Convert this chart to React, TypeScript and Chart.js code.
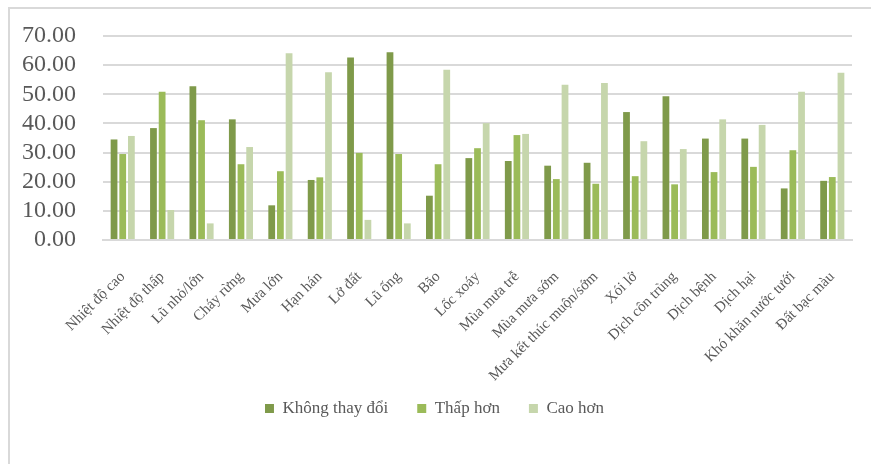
import React, { useEffect, useRef } from "react";
import { Chart, registerables } from "chart.js";

Chart.register(...registerables);

const categories = [
  "Nhiệt độ cao",
  "Nhiệt độ thấp",
  "Lũ nhỏ/lớn",
  "Cháy rừng",
  "Mưa lớn",
  "Hạn hán",
  "Lở đất",
  "Lũ ống",
  "Bão",
  "Lốc xoáy",
  "Mùa mưa trễ",
  "Mùa mưa sớm",
  "Mưa kết thúc muộn/sớm",
  "Xói lở",
  "Dịch côn trùng",
  "Dịch bệnh",
  "Dịch hại",
  "Khó khăn nước tưới",
  "Đất bạc màu",
];

const khongThayDoi = [34.5, 38.4, 52.8, 41.4, 11.9, 20.6, 62.6, 64.4, 15.2, 28.1, 27.1, 25.5, 26.5, 43.9, 49.3, 34.8, 34.8, 17.7, 20.3];
const thapHon = [29.5, 50.9, 41.1, 26.0, 23.6, 21.5, 29.9, 29.5, 26.0, 31.5, 36.0, 20.9, 19.3, 21.9, 19.1, 23.3, 25.1, 30.8, 21.6];
const caoHon = [35.7, 10.3, 5.7, 31.9, 64.1, 57.6, 6.9, 5.7, 58.4, 40.1, 36.4, 53.3, 53.9, 33.9, 31.2, 41.4, 39.5, 50.9, 57.4];

const seriesNames = ["Không thay đổi", "Thấp hơn", "Cao hơn"];
const yMin = 0;
const yMax = 70;
const yStep = 10;

const FONT = "'Liberation Serif', 'Times New Roman', serif";
const TEXT = "#595959";
const GRID = "#d9d9d9";

export default function App() {
  const ref = useRef<HTMLCanvasElement | null>(null);

  useEffect(() => {
    if (!ref.current) return;
    const chart = new Chart(ref.current, {
      type: "bar",
      data: {
        labels: categories,
        datasets: [
          { label: seriesNames[0], data: khongThayDoi, backgroundColor: "#7f9a4a" },
          { label: seriesNames[1], data: thapHon, backgroundColor: "#9bbb59" },
          { label: seriesNames[2], data: caoHon, backgroundColor: "#c6d6ac" },
        ],
      },
      options: {
        animation: false,
        responsive: false,
        maintainAspectRatio: false,
        devicePixelRatio: 1,
        datasets: {
          bar: { barPercentage: 0.78, categoryPercentage: 0.66 },
        },
        layout: { padding: { left: 17, right: 38, top: 36, bottom: 37 } },
        plugins: {
          tooltip: { enabled: false },
          legend: {
            position: "bottom",
            labels: {
              boxWidth: 9,
              boxHeight: 9,
              padding: 29,
              color: TEXT,
              font: { family: FONT, size: 17 },
            },
          },
        },
        scales: {
          x: {
            grid: { display: false, drawTicks: false },
            border: { display: true, color: GRID, width: 2 },
            ticks: {
              autoSkip: false,
              minRotation: 45,
              maxRotation: 45,
              padding: 28,
              color: TEXT,
              font: { family: FONT, size: 15 },
            },
            afterFit: (scale: any) => {
              scale.height = 131;
              // let rotated labels extend below the scale box
              scale._computeLabelArea = () => undefined;
            },
          },
          y: {
            min: yMin,
            max: yMax,
            ticks: {
              autoSkip: false,
              stepSize: yStep,
              padding: 27,
              color: TEXT,
              font: { family: FONT, size: 24 },
              callback: (v: any) => Number(v).toFixed(2),
            },
            grid: { color: GRID, lineWidth: 2, drawTicks: false },
            border: { display: false },
            afterFit: (scale: any) => {
              scale.width = 86;
              scale.paddingTop = 0;
              scale.paddingBottom = 0;
            },
          },
        },
      },
    });
    return () => chart.destroy();
  }, []);

  return (
    <div style={{ position: "fixed", left: 0, top: 0, width: 871, height: 464, overflow: "hidden", background: "#fff" }}>
      <div
        style={{
          position: "absolute",
          left: 8,
          top: 7,
          width: 900,
          height: 500,
          borderLeft: "2px solid #d9d9d9",
          borderTop: "2px solid #d9d9d9",
        }}
      />
      <canvas ref={ref} width={890} height={464} style={{ position: "absolute", left: 0, top: 0, width: 890, height: 464 }} />
    </div>
  );
}
